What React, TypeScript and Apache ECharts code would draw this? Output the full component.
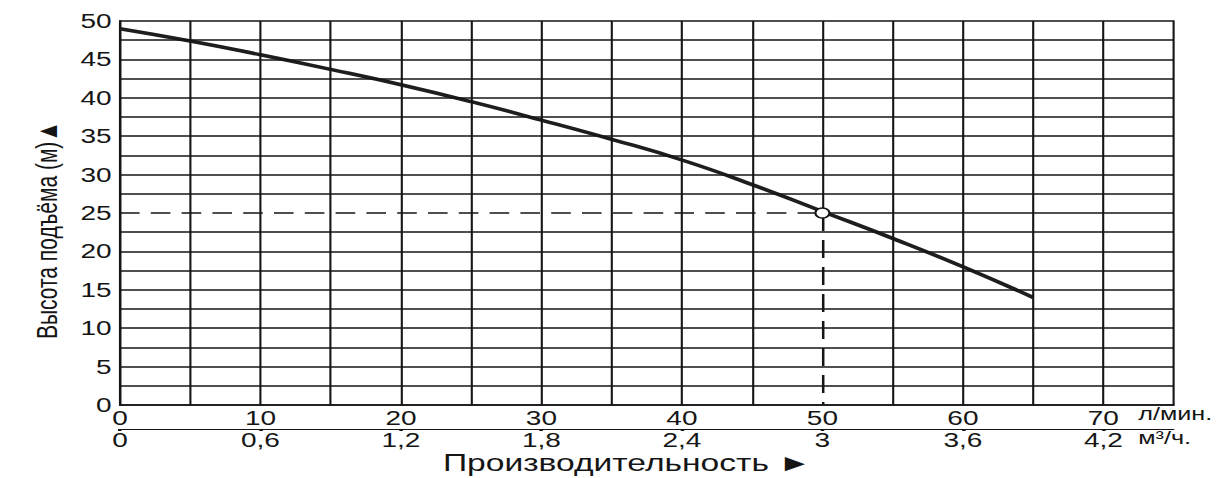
import React, { useEffect, useRef } from "react";
import * as echarts from "echarts";

// Pump curve: flow (l/min) vs head (m)
const flowLpm = [0, 5, 10, 15, 20, 25, 30, 35, 40, 45, 50, 55, 60, 65];
const headM = [49.0, 47.4, 45.6, 43.7, 41.7, 39.5, 37.1, 34.6, 31.9, 28.7, 25.2, 21.7, 18.0, 14.0];
const dutyPoint = [50, 25];
// grid lines (the ones through the duty point are drawn partly dashed)
const xGridLines = [5, 10, 15, 20, 25, 30, 35, 40, 45, 55, 60, 65, 70];
const yGridLines = [2.5, 5, 7.5, 10, 12.5, 15, 17.5, 20, 22.5, 27.5, 30, 32.5, 35, 37.5, 40, 42.5, 45, 47.5];
const xMax = 75;
const yMax = 50;
const xUnitTop = "л/мин.";
const xUnitBottom = "м³/ч.";
const xTitle = "Производительность ►";
const yTitle = "Высота подъёма (м)▲";

const S = 1.4; // horizontal stretch of the reference
const W = 1223 / S;
const H = 478;
const FONT = "'Liberation Sans', Arial, sans-serif";
const INK = "#151515";

export default function App() {
  const ref = useRef<HTMLDivElement>(null);
  useEffect(() => {
    if (!ref.current) return;
    const chart = echarts.init(ref.current, undefined, { renderer: "svg" });
    const gridLeft = 120 / S;
    const gridRight = (1223 - 1173) / S;
    const solid = { color: INK, width: 1.5, type: "solid" };
    const [px, py] = dutyPoint;
    chart.setOption({
      animation: false,
      backgroundColor: "#fff",
      textStyle: { fontFamily: FONT },
      grid: {
        left: gridLeft,
        right: gridRight,
        top: 21,
        bottom: 73,
        show: true,
        borderColor: INK,
        borderWidth: 1.5,
      },
      xAxis: [
        {
          type: "value",
          min: 0,
          max: xMax,
          interval: 5,
          position: "bottom",
          axisLine: { show: true, lineStyle: { color: INK, width: 1.5 } },
          axisTick: { show: false },
          axisLabel: {
            color: INK,
            fontSize: 20,
            fontFamily: FONT,
            margin: 3,
            formatter: (v: number) => (v % 10 === 0 ? String(v) : ""),
          },
          splitLine: { show: false },
        },
        {
          type: "value",
          min: 0,
          max: xMax,
          interval: 10,
          position: "bottom",
          offset: 24,
          axisLine: { show: true, lineStyle: { color: INK, width: 1.2 } },
          axisTick: { show: true, length: 2, lineStyle: { color: INK, width: 2.5 } },
          axisLabel: {
            color: INK,
            fontSize: 20,
            fontFamily: FONT,
            margin: 1,
            showMaxLabel: false,
            formatter: (v: number) =>
              v % 10 === 0 ? (Math.round(v * 0.06 * 10) / 10).toString().replace(".", ",") : "",
          },
          splitLine: { show: false },
        },
      ],
      yAxis: {
        type: "value",
        min: 0,
        max: yMax,
        interval: 2.5,
        axisLine: { show: true, lineStyle: { color: INK, width: 1.5 } },
        axisTick: { show: false },
        axisLabel: {
          color: INK,
          fontSize: 20,
          fontFamily: FONT,
          margin: 6,
          formatter: (v: number) => (v % 5 === 0 ? String(v) : ""),
        },
        splitLine: { show: false },
      },
      series: [
        {
          type: "line",
          name: "grid",
          xAxisIndex: 0,
          data: [],
          z: 1,
          silent: true,
          markLine: {
            silent: true,
            symbol: "none",
            label: { show: false },
            emphasis: { disabled: true },
            lineStyle: solid,
            data: [
              ...xGridLines.map((v) => ({ xAxis: v, lineStyle: solid })),
              ...yGridLines.map((v) => ({ yAxis: v, lineStyle: solid })),
              [
                { coord: [px, py], lineStyle: solid },
                { coord: [px, yMax] },
              ],
              [
                { coord: [px, py], lineStyle: solid },
                { coord: [xMax, py] },
              ],
              [
                { coord: [0, py], lineStyle: { color: INK, width: 1.5, type: [14, 8] } },
                { coord: [px, py] },
              ],
              [
                { coord: [px, py], lineStyle: { color: INK, width: 1.8, type: [18, 9] } },
                { coord: [px, 0] },
              ],
            ],
          },
        },
        {
          type: "line",
          name: "curve",
          xAxisIndex: 0,
          data: flowLpm.map((x, i) => [x, headM[i]]),
          smooth: 0.5,
          showSymbol: false,
          lineStyle: { color: "#1e1e1e", width: 3.5 },
          z: 3,
        },
        {
          type: "scatter",
          name: "point",
          xAxisIndex: 0,
          data: [dutyPoint],
          symbol: "circle",
          symbolSize: 10,
          itemStyle: { color: "#fff", borderColor: INK, borderWidth: 1.5, opacity: 1 },
          z: 5,
        },
      ],
      graphic: [
        {
          type: "text",
          left: 813,
          top: 405,
          style: { text: xUnitTop, fontSize: 18, fontFamily: FONT, fill: INK },
        },
        {
          type: "text",
          left: 813,
          top: 429,
          style: { text: xUnitBottom, fontSize: 18, fontFamily: FONT, fill: INK },
        },
        {
          type: "text",
          x: 448,
          y: 463,
          style: {
            text: xTitle,
            fontSize: 24,
            fontFamily: FONT,
            fill: INK,
            align: "center",
            verticalAlign: "middle",
          },
        },
        {
          type: "text",
          x: 33.5,
          y: 230,
          rotation: Math.PI / 2,
          style: {
            text: yTitle,
            fontSize: 21,
            fontFamily: FONT,
            fill: INK,
            align: "center",
            verticalAlign: "middle",
          },
        },
      ],
    });
    return () => chart.dispose();
  }, []);
  return (
    <div
      ref={ref}
      style={{
        position: "fixed",
        left: 0,
        top: 0,
        width: W,
        height: H,
        transform: `scaleX(${S})`,
        transformOrigin: "0 0",
      }}
    />
  );
}
